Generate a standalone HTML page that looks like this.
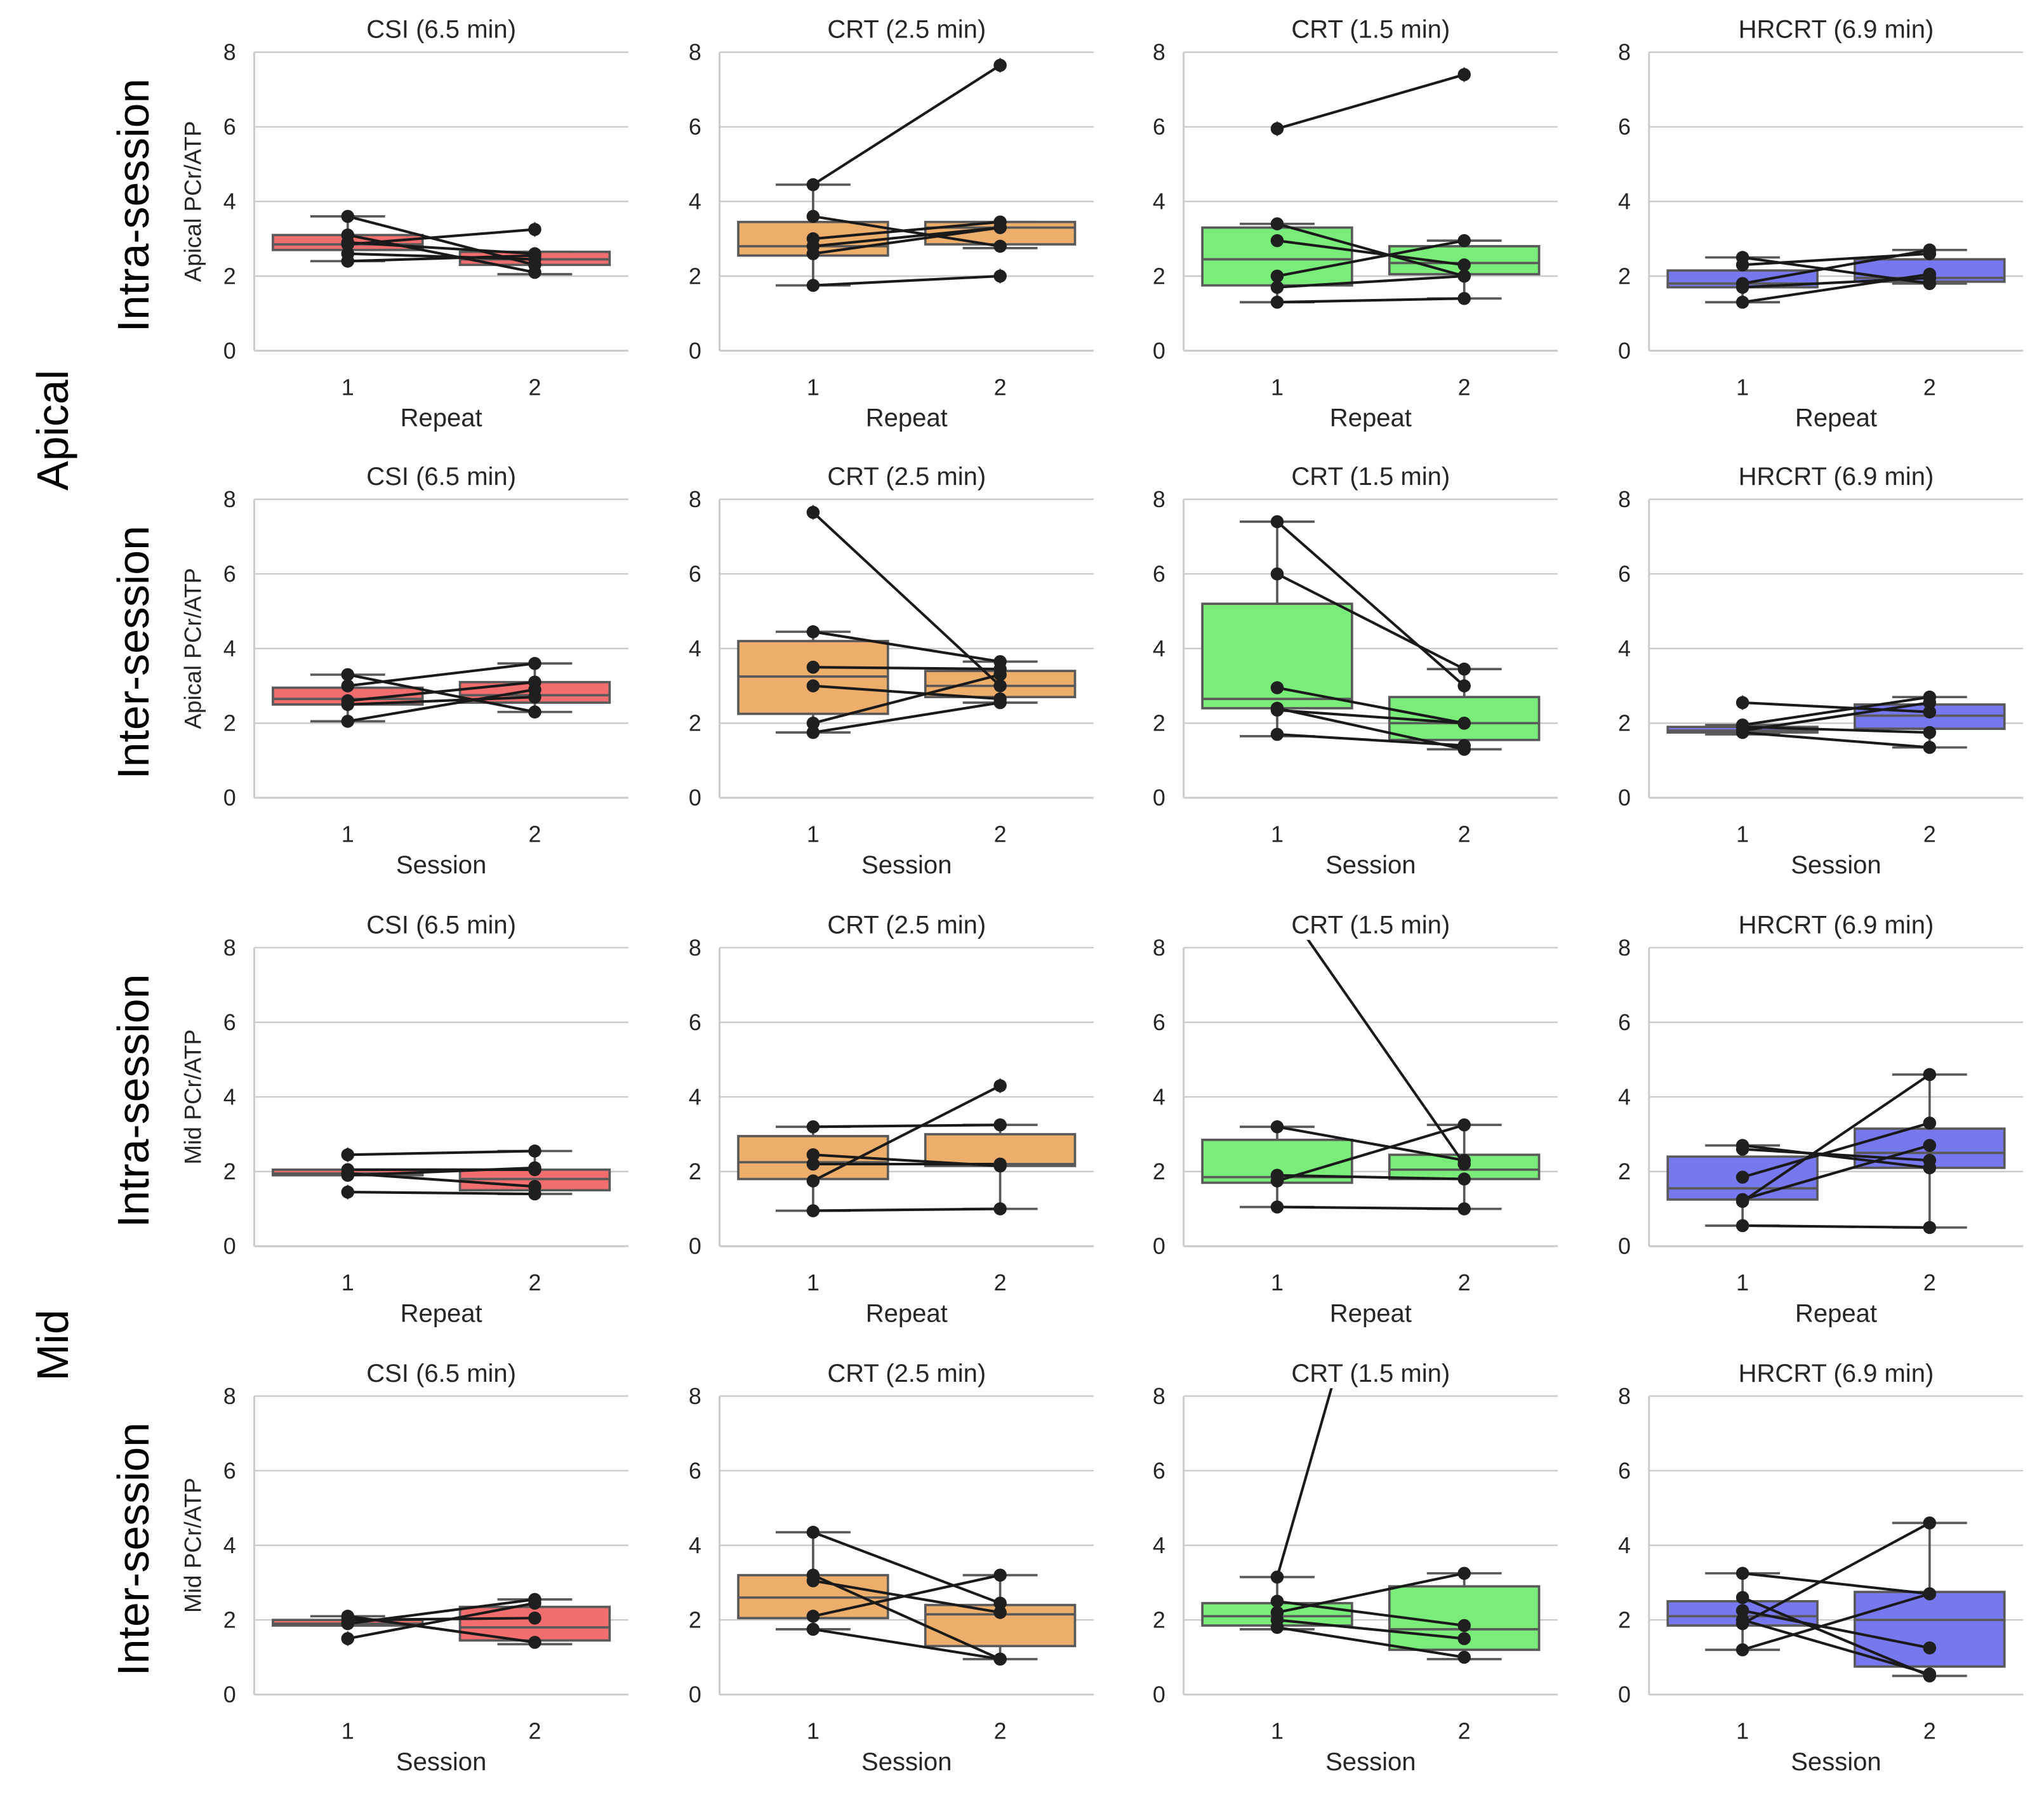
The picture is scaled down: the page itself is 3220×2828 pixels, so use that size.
<!DOCTYPE html>
<html><head><meta charset="utf-8">
<style>
html,body{margin:0;padding:0;background:#fff;}
svg{display:block;font-family:"Liberation Sans",Arial,sans-serif;}
</style></head>
<body>
<svg id="chart" width="3220" height="2828" viewBox="0 0 1568 1377" xmlns="http://www.w3.org/2000/svg">
<g id="root"></g>
</svg>
<script>
// ---- data ----
const methods = ["CSI (6.5 min)","CRT (2.5 min)","CRT (1.5 min)","HRCRT (6.9 min)"];
const colors = ["#F26D6D","#EDAE6C","#79EC79","#7777EE"];
const rowXLabels = ["Repeat","Session","Repeat","Session"];
const rowYLabels = ["Apical PCr/ATP","Apical PCr/ATP","Mid PCr/ATP","Mid PCr/ATP"];
const rowTypes = ["Intra-session","Inter-session","Intra-session","Inter-session"];
const regions = ["Apical","Mid"];
const yTicks = [0,2,4,6,8];
const categories = ["1","2"];
// box stats: [whiskerLow, q1, median, q3, whiskerHigh] per category, panel index = row*4+col
const boxStats = [
 [[2.4,2.7,2.85,3.1,3.6],[2.05,2.3,2.45,2.65,2.65]],
 [[1.75,2.55,2.8,3.45,4.45],[2.75,2.85,3.3,3.45,3.45]],
 [[1.3,1.75,2.45,3.3,3.4],[1.4,2.05,2.35,2.8,2.95]],
 [[1.3,1.7,1.8,2.15,2.5],[1.8,1.85,1.95,2.45,2.7]],
 [[2.05,2.5,2.65,2.95,3.3],[2.3,2.55,2.75,3.1,3.6]],
 [[1.75,2.25,3.25,4.2,4.45],[2.55,2.7,3.0,3.4,3.65]],
 [[1.65,2.4,2.65,5.2,7.4],[1.3,1.55,2.0,2.7,3.45]],
 [[1.7,1.75,1.8,1.9,1.95],[1.35,1.85,2.2,2.5,2.7]],
 [[1.9,1.9,1.95,2.05,2.05],[1.4,1.5,1.8,2.05,2.55]],
 [[0.95,1.8,2.25,2.95,3.2],[1.0,2.15,2.2,3.0,3.25]],
 [[1.05,1.7,1.85,2.85,3.2],[1.0,1.8,2.05,2.45,3.25]],
 [[0.55,1.25,1.55,2.4,2.7],[0.5,2.1,2.5,3.15,4.6]],
 [[1.85,1.85,1.9,2.0,2.1],[1.35,1.45,1.8,2.35,2.55]],
 [[1.75,2.05,2.6,3.2,4.35],[0.95,1.3,2.15,2.4,3.2]],
 [[1.75,1.85,2.1,2.45,3.15],[0.95,1.2,1.75,2.9,3.25]],
 [[1.2,1.85,2.1,2.5,3.25],[0.5,0.75,2.0,2.75,4.6]]
];
// outliers per panel per category
const outliers = [
 [[],[3.25]],[[],[7.65,2.0]],[[5.95],[7.4]],[[],[]],
 [[],[]],[[7.65],[]],[[],[]],[[2.55],[]],
 [[2.45,1.45],[]],[[],[4.3]],[[],[]],[[],[]],
 [[1.5],[]],[[],[]],[[],[]],[[],[]]
];
// paired subject values: [value at 1, value at 2]
const pairs = [
 [[3.6,2.3],[3.1,2.1],[2.9,2.6],[2.6,2.45],[2.4,2.55],[2.85,3.25]],
 [[4.45,7.65],[3.6,2.8],[3.0,3.45],[2.6,3.3],[1.75,2.0],[2.8,3.3]],
 [[5.95,7.4],[3.4,2.0],[2.95,2.3],[2.0,2.95],[1.3,1.4],[1.7,2.0]],
 [[2.5,1.8],[2.3,2.6],[1.8,2.7],[1.7,1.95],[1.3,2.05]],
 [[3.3,2.3],[3.0,3.6],[2.6,3.1],[2.5,2.7],[2.05,2.9]],
 [[7.65,3.0],[4.45,3.65],[3.5,3.45],[3.0,2.65],[2.0,3.3],[1.75,2.55]],
 [[7.4,3.0],[6.0,3.45],[2.95,2.0],[2.4,1.3],[2.35,2.0],[1.7,1.4]],
 [[2.55,2.3],[1.95,2.7],[1.9,1.75],[1.8,2.55],[1.75,1.35]],
 [[2.45,2.55],[2.05,2.05],[1.95,1.6],[1.9,2.1],[1.45,1.4]],
 [[3.2,3.25],[2.45,2.15],[2.2,2.2],[1.75,4.3],[0.95,1.0]],
 [[3.2,2.3],[1.9,1.8],[1.75,3.25],[1.05,1.0],[9.4,2.2]],
 [[2.7,2.1],[1.85,3.3],[1.25,2.7],[1.2,4.6],[0.55,0.5],[2.6,2.3]],
 [[2.1,1.4],[2.0,2.05],[1.9,2.55],[1.5,2.45]],
 [[4.35,2.45],[3.2,0.95],[3.05,2.2],[2.1,3.2],[1.75,0.95]],
 [[3.15,20.6],[2.5,1.85],[2.2,3.25],[1.8,1.0],[2.0,1.5]],
 [[3.25,2.7],[2.6,0.5],[2.25,1.25],[1.9,4.6],[1.2,2.7],[2.0,0.55]]
];
// ---- layout ----
const NS="http://www.w3.org/2000/svg";
const root=document.getElementById('root');
const colLeft=[195,552,908,1265], rowTop=[40,383,727,1071];
const W=287, H=229, YMAX=8;
function mk(tag,attrs,parent){const e=document.createElementNS(NS,tag);for(const k in attrs)e.setAttribute(k,attrs[k]);(parent||root).appendChild(e);return e;}
function txt(s,attrs,parent){const e=mk('text',attrs,parent);e.textContent=s;return e;}
const defs=mk('defs',{});
for(let r=0;r<4;r++){
 const ry=rowTop[r]+H/2+3;
 const rl=txt(rowTypes[r],{x:0,y:0,transform:`translate(114,${ry}) rotate(-90)`,'text-anchor':'middle','font-size':34,fill:'#000'});
 
 
 for(let c=0;c<4;c++){
  const p=r*4+c, x0=colLeft[c], y0=rowTop[r];
  const ys=v=>y0+H-v/YMAX*H;
  const xs=i=>x0+W*(0.25+0.5*i);
  const g=mk('g',{});
  
  
  const cp=mk('clipPath',{id:'cp'+p},defs);
  mk('rect',{x:x0,y:y0-6,width:W+2,height:H+6},cp);
  yTicks.forEach(t=>{
   const gl=mk('line',{x1:x0,x2:x0+W,y1:ys(t),y2:ys(t),stroke:'#cccccc','stroke-width':1.2},g);
   
   
   const tl=txt(String(t),{x:x0-14,y:ys(t)+6,'text-anchor':'end','font-size':17.5,fill:'#262626'},g);
   
   
  });
  mk('line',{x1:x0,x2:x0,y1:y0,y2:y0+H,stroke:'#cccccc','stroke-width':1.5},g);
  mk('line',{x1:x0,x2:x0+W,y1:y0+H,y2:y0+H,stroke:'#cccccc','stroke-width':1.5},g);
  const bw=W*0.4;
  boxStats[p].forEach((s,i)=>{
   const cx=xs(i);
   const bg=mk('g',{},g);
   
   
   mk('line',{x1:cx,x2:cx,y1:ys(s[0]),y2:ys(s[1]),stroke:'#595959','stroke-width':1.8},bg);
   mk('line',{x1:cx,x2:cx,y1:ys(s[3]),y2:ys(s[4]),stroke:'#595959','stroke-width':1.8},bg);
   mk('line',{x1:cx-bw/4,x2:cx+bw/4,y1:ys(s[0]),y2:ys(s[0]),stroke:'#595959','stroke-width':1.8},bg);
   mk('line',{x1:cx-bw/4,x2:cx+bw/4,y1:ys(s[4]),y2:ys(s[4]),stroke:'#595959','stroke-width':1.8},bg);
   mk('rect',{x:cx-bw/2,y:ys(s[3]),width:bw,height:Math.max(ys(s[1])-ys(s[3]),0.5),fill:colors[c],stroke:'#595959','stroke-width':1.8},bg);
   mk('line',{x1:cx-bw/2,x2:cx+bw/2,y1:ys(s[2]),y2:ys(s[2]),stroke:'#595959','stroke-width':1.8},bg);
   outliers[p][i].forEach(v=>{
    const d=mk('path',{d:`M${cx},${ys(v)-6} L${cx+4.5},${ys(v)} L${cx},${ys(v)+6} L${cx-4.5},${ys(v)} Z`,fill:'#595959'},bg);
    
    
   });
  });
  const lg=mk('g',{'clip-path':`url(#cp${p})`},g);
  pairs[p].forEach(pr=>{
   const l=mk('line',{x1:xs(0),y1:ys(pr[0]),x2:xs(1),y2:ys(pr[1]),stroke:'#1a1a1a','stroke-width':2},lg);
   
   
  });
  pairs[p].forEach(pr=>{
   pr.forEach((v,i)=>{
    const pt=mk('circle',{cx:xs(i),cy:ys(v),r:5,fill:'#1f1f1f'},lg);
    
    
   });
  });
  categories.forEach((cat,i)=>{
   const t=txt(cat,{x:xs(i),y:y0+H+34,'text-anchor':'middle','font-size':17.5,fill:'#262626'},g);
   
   
  });
  const xl=txt(rowXLabels[r],{x:x0+W/2,y:y0+H+58,'text-anchor':'middle','font-size':19.5,fill:'#262626'},g);
  
  
  const tt=txt(methods[c],{x:x0+W/2,y:y0-11,'text-anchor':'middle','font-size':19.5,fill:'#262626'},g);
  
  
  if(c===0){
   const yl=txt(rowYLabels[r],{x:0,y:0,transform:`translate(154,${y0+H/2}) rotate(-90)`,'text-anchor':'middle','font-size':18,fill:'#262626'},g);
   
   
  }
 }
}
regions.forEach((name,i)=>{
 const cy=i===0?330:1032;
 const t=txt(name,{x:0,y:0,transform:`translate(52,${cy}) rotate(-90)`,'text-anchor':'middle','font-size':34,fill:'#000'});
 
 
});
</script>
</body></html>
